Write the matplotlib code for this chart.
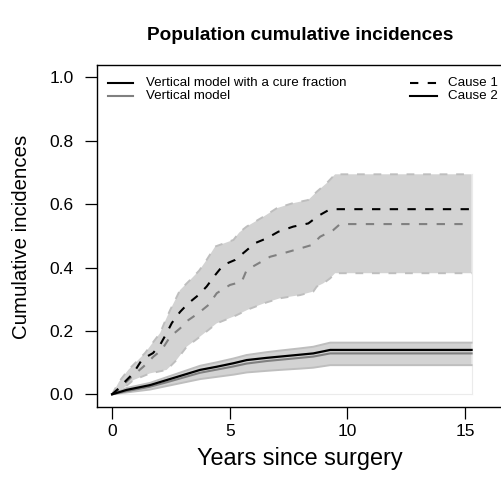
import matplotlib
matplotlib.use("Agg")
import matplotlib.pyplot as plt
from matplotlib.lines import Line2D
import numpy as np

plt.rcParams['font.family'] = ['Liberation Sans', 'DejaVu Sans']

# ---------------- data ----------------
# Cause 1, vertical model with a cure fraction (black dashed)
c1_cure_t = [0, 0.3, 0.55, 0.9, 1.26, 1.5, 1.74, 2.04, 2.32, 2.54, 2.89, 3.24, 3.67, 4.02,
             4.38, 4.73, 5.23, 5.65, 6.08, 6.57, 7.07, 7.7, 8.34, 8.77, 9.27, 15.28]
c1_cure_y = [0, 0.02, 0.04, 0.066, 0.108, 0.12, 0.13, 0.156, 0.193, 0.225, 0.26, 0.287, 0.313, 0.34,
             0.376, 0.408, 0.424, 0.45, 0.477, 0.492, 0.513, 0.529, 0.539, 0.563, 0.584, 0.584]
# Cause 1, vertical model (gray dashed)
c1_vert_t = [0, 0.3, 0.55, 0.9, 1.33, 1.76, 2.11, 2.47, 2.89, 3.24, 3.67, 4.1, 4.45, 5.01,
             5.51, 5.72, 6.22, 6.72, 7.28, 7.99, 8.49, 8.84, 9.4, 9.69, 15.28]
c1_vert_y = [0, 0.015, 0.035, 0.06, 0.087, 0.119, 0.14, 0.182, 0.208, 0.234, 0.256, 0.282, 0.319, 0.345,
             0.355, 0.392, 0.413, 0.434, 0.445, 0.46, 0.471, 0.497, 0.518, 0.537, 0.537]
# Cause 1 confidence band
c1_up_t = [0, 0.3, 0.69, 1.0, 1.4, 1.7, 2.04, 2.25, 2.47, 2.7, 2.89, 3.31, 3.7, 4.02, 4.38,
           5.16, 5.4, 5.72, 6.43, 7.0, 7.64, 8.34, 8.7, 9.12, 9.48, 15.28]
c1_up_y = [0, 0.04, 0.077, 0.1, 0.13, 0.16, 0.193, 0.23, 0.266, 0.3, 0.329, 0.36, 0.39, 0.424, 0.466,
           0.487, 0.51, 0.529, 0.56, 0.587, 0.602, 0.613, 0.639, 0.666, 0.694, 0.694]
c1_lo_t = [0, 0.5, 0.91, 1.61, 2.32, 2.74, 3.17, 3.74, 4.45, 5.16, 5.86, 6.57, 7.14, 7.99,
           8.55, 8.7, 8.98, 9.27, 9.48, 15.28]
c1_lo_y = [0, 0.02, 0.045, 0.066, 0.077, 0.108, 0.15, 0.182, 0.224, 0.245, 0.27, 0.29, 0.303, 0.313,
           0.324, 0.34, 0.35, 0.366, 0.382, 0.382]
# Cause 2
c2_t = [0, 0.62, 1.61, 2.32, 3.03, 3.74, 4.45, 5.16, 5.72, 6.57, 7.14, 7.99, 8.55, 9.27, 15.28]
c2_cure_y = [0, 0.014, 0.029, 0.045, 0.061, 0.077, 0.087, 0.098, 0.108, 0.115, 0.119, 0.125, 0.129, 0.14, 0.14]
c2_vert_y = [0, 0.01, 0.024, 0.038, 0.053, 0.068, 0.078, 0.088, 0.097, 0.105, 0.109, 0.115, 0.119, 0.129, 0.129]
c2_up_y = [0, 0.02, 0.036, 0.054, 0.072, 0.09, 0.101, 0.113, 0.124, 0.133, 0.138, 0.145, 0.15, 0.163, 0.163]
c2_lo_y = [0, 0.006, 0.015, 0.026, 0.037, 0.048, 0.055, 0.062, 0.069, 0.074, 0.077, 0.081, 0.084, 0.092, 0.092]

x_ticks = [0, 5, 10, 15]
y_ticks = [0.0, 0.2, 0.4, 0.6, 0.8, 1.0]
y_ticklabels = ["0.0", "0.2", "0.4", "0.6", "0.8", "1.0"]
legend_models = ["Vertical model with a cure fraction", "Vertical model"]
legend_causes = ["Cause 1", "Cause 2"]

# ---------------- figure ----------------
W, H = 501, 495
fig = plt.figure(figsize=(W / 100, H / 100), dpi=100)

def fx(px):
    return px / W

def fy(py):
    return 1 - py / H

ax_l, ax_r, ax_t, ax_b = 97, 503.6, 64.6, 407.0
ax = fig.add_axes([fx(ax_l), fy(ax_b), fx(ax_r) - fx(ax_l), fy(ax_t) - fy(ax_b)])
ax.set_xlim(-0.64, 16.64)
ax.set_ylim(-0.04, 1.04)

FILL = '#D3D3D3'
BORDER = '#BEBEBE'
GRAY = '#808080'

# Cause 1 band
ax.fill(np.concatenate([c1_up_t, c1_lo_t[::-1]]), np.concatenate([c1_up_y, c1_lo_y[::-1]]),
        color=FILL, lw=0, zorder=1)
# Cause 2 band
ax.fill(np.concatenate([c2_t, c2_t[::-1]]), np.concatenate([c2_up_y, c2_lo_y[::-1]]),
        color=FILL, lw=0, zorder=1)

# faint frame lines
ax.plot([0, 15.28], [0, 0], color='#EBEBEB', lw=0.8, zorder=0.5)
ax.plot([15.28, 15.28], [0, 0.694], color='#EBEBEB', lw=0.8, zorder=0.5)

dash = (0, (4, 4.5))
ax.plot(c1_up_t, c1_up_y, color=BORDER, lw=1.4, ls=dash, zorder=2)
ax.plot(c1_lo_t, c1_lo_y, color=BORDER, lw=1.4, ls=dash, zorder=2)
ax.plot(c2_t, c2_up_y, color=BORDER, lw=1.4, zorder=2)
ax.plot(c2_t, c2_lo_y, color=BORDER, lw=1.4, zorder=2)

ax.plot(c1_vert_t, c1_vert_y, color=GRAY, lw=1.5, ls=dash, zorder=3)
ax.plot(c1_cure_t, c1_cure_y, color='black', lw=1.5, ls=dash, zorder=4)
ax.plot(c2_t, c2_vert_y, color=GRAY, lw=1.5, zorder=3)
ax.plot(c2_t, c2_cure_y, color='black', lw=1.6, zorder=4)

# axes styling
for s in ax.spines.values():
    s.set_linewidth(1.0)
    s.set_color('black')
ax.set_xticks(x_ticks)
ax.set_xticklabels([str(v) for v in x_ticks])
ax.set_yticks(y_ticks)
ax.set_yticklabels(y_ticklabels)
ax.tick_params(axis='both', direction='out', length=8.5, width=0.9, labelsize=12.5)
ax.tick_params(axis='x', pad=4)
ax.tick_params(axis='y', pad=8.5)

# labels
fig.text(fx(300), fy(35), "Population cumulative incidences", ha='center', va='center',
         fontsize=13.7, fontweight='bold')
fig.text(fx(300), fy(458), "Years since surgery", ha='center', va='center', fontsize=16.9)
fig.text(fx(22), fy(237), "Cumulative incidences", ha='center', va='center', fontsize=14.7, rotation=90)

# legends (drawn manually)
rows = [82.7, 96]
model_colors = ['black', GRAY]
for r, lab, c in zip(rows, legend_models, model_colors):
    fig.add_artist(Line2D([fx(108), fx(133)], [fy(r), fy(r)], color=c, lw=1.5))
    fig.text(fx(146), fy(r), lab, ha='left', va='center', fontsize=9.6)
cause_styles = [dash, '-']
for r, lab, ls in zip(rows, legend_causes, cause_styles):
    fig.add_artist(Line2D([fx(410), fx(437)], [fy(r), fy(r)], color='black', lw=1.5, ls=ls))
    fig.text(fx(448), fy(r), lab, ha='left', va='center', fontsize=9.6)

fig.savefig("out.png", dpi=100)
